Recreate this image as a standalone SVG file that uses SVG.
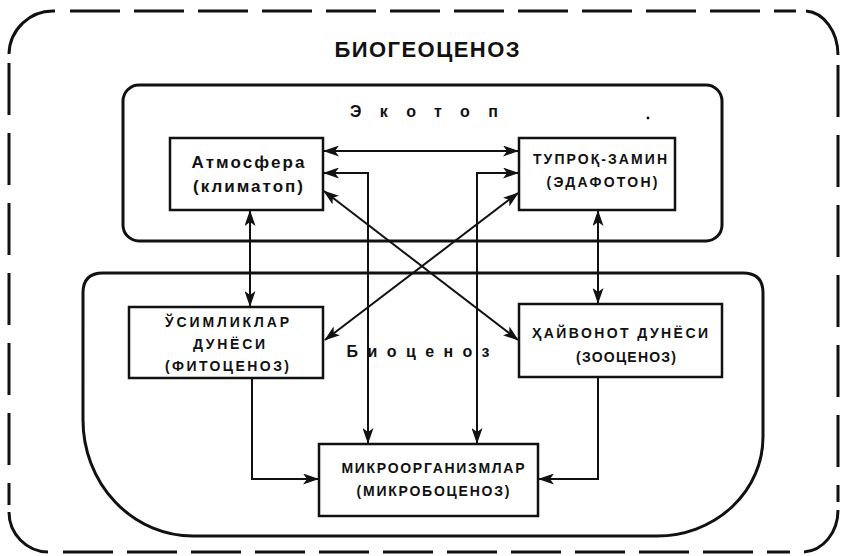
<svg xmlns="http://www.w3.org/2000/svg" width="843" height="556" viewBox="0 0 843 556">
<style>
.t{font-family:"Liberation Sans","DejaVu Sans",sans-serif;font-weight:bold;fill:#111;text-anchor:middle}
.box{fill:#fff;stroke:#111;stroke-width:2.5}
.frame{fill:none;stroke:#111;stroke-width:3}
.dash{fill:none;stroke:#111;stroke-width:3;stroke-dasharray:50 14}
.dashv{fill:none;stroke:#111;stroke-width:3;stroke-dasharray:52 18}
.c{fill:none;stroke:#111;stroke-width:2}
.c2{fill:none;stroke:#111;stroke-width:2;marker-start:url(#ah);marker-end:url(#ah)}
.c1{fill:none;stroke:#111;stroke-width:2;marker-end:url(#ah)}
</style>
<defs>
<marker id="ah" viewBox="0 0 16 11" refX="15" refY="5.5" markerWidth="16" markerHeight="11" markerUnits="userSpaceOnUse" orient="auto-start-reverse">
<path d="M0,0 L16,5.5 L0,11 L4,5.5 z" fill="#111"/>
</marker>
</defs>
<rect width="843" height="556" fill="#fff"/>
<g id="biogeocenoz">
<path class="frame" d="M9,54 A44,44 0 0 1 55,11"/>
<path class="frame" d="M806,11 A34,44 0 0 1 838,55"/>
<path class="frame" d="M9,512 A40,40 0 0 0 48,552"/>
<path class="frame" d="M838,510 A36,42 0 0 1 804,552"/>
<path class="dash" d="M70,11 H796"/>
<path class="dash" d="M63,552 H790"/>
<path class="dashv" d="M9,63 V505"/>
<path class="dashv" d="M838,65 V502"/>
<text class="t" x="427" y="57" font-size="22" textLength="185" lengthAdjust="spacing">БИОГЕОЦЕНОЗ</text>
</g>
<g id="ekotop">
<rect class="frame" x="123" y="85" width="599" height="156" rx="16"/>
<text class="t" x="424" y="117" font-size="16" textLength="148" lengthAdjust="spacing">Экотоп</text>
<circle cx="648" cy="118" r="1.4" fill="#111"/>
</g>
<g id="biocenoz">
<path class="frame" d="M83,293 Q83,273 103,273 H743 Q763,273 763,293 V437 A106,99 0 0 1 657,536 H193 A110,116 0 0 1 83,420 Z"/>
<text class="t" x="418" y="357" font-size="16" textLength="143" lengthAdjust="spacing">Биоценоз</text>
</g>
<g id="connectors">
<path class="c2" d="M324,151 H518"/>
<path class="c2" d="M324,173 H368 V443"/>
<path class="c2" d="M518,173 H477 V443"/>
<path class="c2" d="M324,191 L518,340"/>
<path class="c2" d="M518,193 L325,340"/>
<path class="c2" d="M250,211 V306"/>
<path class="c2" d="M598,211 V303"/>
<path class="c1" d="M252,378 V479 H318"/>
<path class="c1" d="M598,377 V479 H539"/>
</g>
<g id="atmosfera">
<rect class="box" x="170" y="138" width="153" height="72"/>
<text class="t" x="248" y="168" font-size="17" textLength="113" lengthAdjust="spacing">Атмосфера</text>
<text class="t" x="248" y="192" font-size="17" textLength="110" lengthAdjust="spacing">(климатоп)</text>
</g>
<g id="tuproq">
<rect class="box" x="519" y="138" width="156" height="72"/>
<text class="t" x="600" y="164" font-size="14" textLength="134" lengthAdjust="spacing">ТУПРОҚ-ЗАМИН</text>
<text class="t" x="602" y="187" font-size="14" textLength="111" lengthAdjust="spacing">(ЭДАФОТОН)</text>
</g>
<g id="usimliklar">
<rect class="box" x="129" y="307" width="194" height="71"/>
<text class="t" x="227" y="327" font-size="14" textLength="124" lengthAdjust="spacing">ЎСИМЛИКЛАР</text>
<text class="t" x="229" y="349" font-size="14" textLength="72" lengthAdjust="spacing">ДУНЁСИ</text>
<text class="t" x="227" y="371" font-size="14" textLength="124" lengthAdjust="spacing">(ФИТОЦЕНОЗ)</text>
</g>
<g id="hayvonot">
<rect class="box" x="519" y="304" width="203" height="73"/>
<text class="t" x="620" y="338" font-size="14" textLength="176" lengthAdjust="spacing">ҲАЙВОНОТ ДУНЁСИ</text>
<text class="t" x="626" y="362" font-size="14" textLength="100" lengthAdjust="spacing">(ЗООЦЕНОЗ)</text>
</g>
<g id="mikro">
<rect class="box" x="319" y="444" width="219" height="72"/>
<text class="t" x="433" y="473" font-size="14" textLength="183" lengthAdjust="spacing">МИКРООРГАНИЗМЛАР</text>
<text class="t" x="433" y="496" font-size="14" textLength="153" lengthAdjust="spacing">(МИКРОБОЦЕНОЗ)</text>
</g>
</svg>
